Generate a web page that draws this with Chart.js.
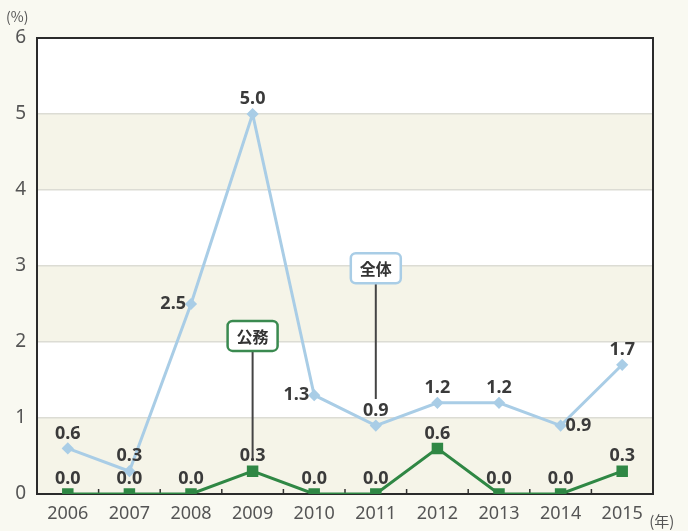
<!DOCTYPE html>
<html lang="ja">
<head>
<meta charset="UTF-8">
<title>推移</title>
<script src="https://cdn.jsdelivr.net/npm/chart.js"></script>
<style>
  html, body { margin: 0; padding: 0; background: #f9f9f1; }
  canvas { display: block; }
</style>
</head>
<body>
<canvas id="chart" width="688" height="531"></canvas>
<script>
  const years = ['2006', '2007', '2008', '2009', '2010', '2011', '2012', '2013', '2014', '2015'];
  const totalValues = [0.6, 0.3, 2.5, 5.0, 1.3, 0.9, 1.2, 1.2, 0.9, 1.7];
  const publicValues = [0.0, 0.0, 0.0, 0.3, 0.0, 0.0, 0.6, 0.0, 0.0, 0.3];
  const yTicks = [0, 1, 2, 3, 4, 5, 6];

  // where each value label sits relative to its point
  const totalLabelSide = ['top', 'top', 'left', 'top', 'left', 'top', 'top', 'top', 'right', 'top'];
  const publicLabelSide = ['top', 'top', 'top', 'top', 'top', 'top', 'top', 'top', 'top', 'top'];

  // callouts: text, category index, box value, line end value
  const callouts = [
    { text: '全体', index: 5, boxY: 2.97, lineTo: 1.25, color: '#a9cde6' },
    { text: '公務', index: 3, boxY: 2.08, lineTo: 0.45, color: '#3a8a50' }
  ];

  const blue = '#a9cde6';
  const green = '#2f8744';
  const font = '"Noto Sans", "Noto Sans CJK JP", sans-serif';

  const frame = {
    id: 'frame',
    beforeDatasetsDraw(chart) {
      const { ctx, chartArea: a, scales: { x, y } } = chart;
      ctx.save();
      // x-axis small ticks at category boundaries
      ctx.strokeStyle = '#333';
      ctx.lineWidth = 1.5;
      for (let i = 1; i < years.length; i++) {
        const px = (x.getPixelForValue(i - 1) + x.getPixelForValue(i)) / 2;
        ctx.beginPath();
        ctx.moveTo(px, a.bottom);
        ctx.lineTo(px, a.bottom - 5);
        ctx.stroke();
      }
      // box
      ctx.strokeStyle = '#2b2b2b';
      ctx.lineWidth = 2;
      ctx.strokeRect(a.left, a.top, a.right - a.left, a.bottom - a.top);
      // callout lines
      callouts.forEach(c => {
        const px = x.getPixelForValue(c.index);
        const py = y.getPixelForValue(c.boxY);
        ctx.strokeStyle = '#444';
        ctx.lineWidth = 2;
        ctx.beginPath();
        ctx.moveTo(px, py + 12);
        ctx.lineTo(px, y.getPixelForValue(c.lineTo));
        ctx.stroke();
      });
      ctx.restore();
    },
    beforeDraw(chart) {
      const { ctx, chartArea: a, scales: { y } } = chart;
      ctx.save();
      ctx.fillStyle = '#ffffff';
      ctx.fillRect(a.left, a.top, a.right - a.left, a.bottom - a.top);
      ctx.fillStyle = '#f5f4e8';
      for (let v = 0; v < 6; v += 2) {
        const top = y.getPixelForValue(v + 1);
        const bot = y.getPixelForValue(v);
        ctx.fillRect(a.left, top, a.right - a.left, bot - top);
      }
      ctx.restore();
    },
    afterDraw(chart) {
      const { ctx, scales: { x, y } } = chart;
      ctx.save();
      // value labels
      ctx.font = 'bold 18px ' + font;
      ctx.fillStyle = '#3a3a3a';
      const drawLabels = (meta, values, sides) => {
        meta.data.forEach((pt, i) => {
          const txt = values[i].toFixed(1);
          const s = sides[i];
          if (s === 'top') {
            ctx.textAlign = 'center'; ctx.textBaseline = 'bottom';
            ctx.fillText(txt, pt.x, pt.y - 6);
          } else if (s === 'left') {
            ctx.textAlign = 'right'; ctx.textBaseline = 'middle';
            ctx.fillText(txt, pt.x - 5, pt.y);
          } else {
            ctx.textAlign = 'left'; ctx.textBaseline = 'middle';
            ctx.fillText(txt, pt.x + 5, pt.y);
          }
        });
      };
      drawLabels(chart.getDatasetMeta(0), totalValues, totalLabelSide);
      drawLabels(chart.getDatasetMeta(1), publicValues, publicLabelSide);

      // callout boxes
      callouts.forEach(c => {
        const px = x.getPixelForValue(c.index);
        const py = y.getPixelForValue(c.boxY);
        const w = 50, h = 30;
        ctx.fillStyle = '#ffffff';
        ctx.strokeStyle = c.color;
        ctx.lineWidth = 2.5;
        ctx.beginPath();
        ctx.roundRect(px - w / 2, py - h / 2, w, h, 5);
        ctx.fill();
        ctx.stroke();
        ctx.fillStyle = '#333';
        ctx.font = 'bold 16px "Noto Sans CJK JP", sans-serif';
        ctx.textAlign = 'center';
        ctx.textBaseline = 'middle';
        ctx.fillText(c.text, px, py + 1);
      });

      // unit labels
      ctx.fillStyle = '#555';
      ctx.font = '14px "Noto Sans CJK JP", sans-serif';
      ctx.textAlign = 'left';
      ctx.textBaseline = 'middle';
      ctx.fillText('(%)', 6, 17);
      ctx.font = '15px "Noto Sans CJK JP", sans-serif';
      ctx.fillText('(年)', x.getPixelForValue(years.length - 1) + 27, 521);
      ctx.restore();
    }
  };

  new Chart(document.getElementById('chart'), {
    type: 'line',
    data: {
      labels: years,
      datasets: [{
        label: '全体',
        data: totalValues,
        borderColor: blue,
        backgroundColor: blue,
        borderWidth: 3,
        pointStyle: 'rectRot',
        pointRadius: 4,
        tension: 0
      }, {
        label: '公務',
        data: publicValues,
        borderColor: green,
        backgroundColor: green,
        borderWidth: 3,
        pointStyle: 'rect',
        pointRadius: 6,
        tension: 0
      }]
    },
    options: {
      responsive: false,
      animation: false,
      layout: { padding: { top: 38, right: 35, left: 0, bottom: 0 } },
      plugins: { legend: { display: false }, tooltip: { enabled: false } },
      scales: {
        x: {
          offset: true,
          grid: { display: false, drawTicks: false },
          border: { display: false },
          ticks: { color: '#555', font: { family: font, size: 18 }, padding: 9, maxRotation: 0, autoSkip: false },
          afterFit(s) { s.height = 37; }
        },
        y: {
          min: 0,
          max: 6,
          afterBuildTicks(s) { s.ticks = yTicks.map(v => ({ value: v })); },
          grid: { color: '#dcdcd4', lineWidth: 1.5, drawTicks: false },
          border: { display: false },
          ticks: { color: '#555', font: { family: font, size: 19 }, padding: 11 },
          afterFit(s) { s.width = 37; }
        }
      }
    },
    plugins: [frame]
  });
</script>
</body>
</html>
